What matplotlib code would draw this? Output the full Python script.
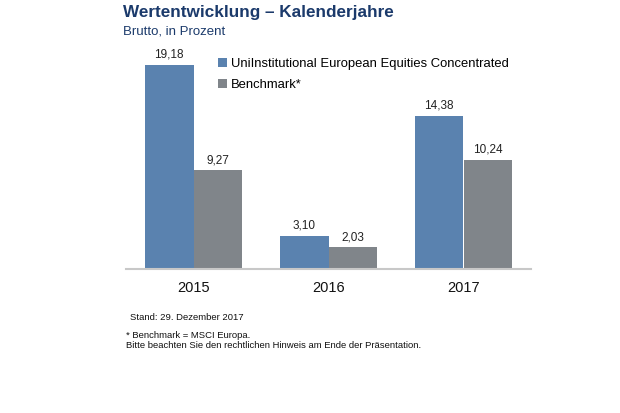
import numpy as np
import matplotlib.pyplot as plt

plt.rcParams['font.family'] = ['Liberation Sans', 'DejaVu Sans']

# Daten
jahre = ['2015', '2016', '2017']
fonds = [19.18, 3.10, 14.38]
benchmark = [9.27, 2.03, 10.24]
fonds_label = 'UniInstitutional European Equities Concentrated'
bench_label = 'Benchmark*'

blau = '#5A82AF'
grau = '#80858A'
navy = '#1B3A6B'

W, H = 620, 413
fig = plt.figure(figsize=(W / 100, H / 100), dpi=100)

# Achse in Pixelkoordinaten platzieren
x0, x1 = 126, 531
y_base, y_top = 269, 56
ax = fig.add_axes([x0 / W, (H - y_base) / H, (x1 - x0) / W, (y_base - y_top) / H])

x = np.arange(len(jahre))
w = 0.36
b1 = ax.bar(x - w / 2, fonds, w, color=blau, label=fonds_label)
b2 = ax.bar(x + w / 2, benchmark, w, color=grau, label=bench_label)

for bars, vals in ((b1, fonds), (b2, benchmark)):
    for b, v in zip(bars, vals):
        ax.annotate(f'{v:.2f}'.replace('.', ','),
                    (b.get_x() + b.get_width() / 2, v),
                    xytext=(0, 3), textcoords='offset points',
                    ha='center', va='bottom', fontsize=8.5, color='#222222')

ax.set_xlim(-0.5, 2.5)
ax.set_ylim(0, 20)
ax.set_xticks(x)
ax.set_xticklabels(jahre, fontsize=10.5, color='#111111')
ax.tick_params(axis='x', length=0, pad=9)
ax.set_yticks([])
for s in ['top', 'right', 'left']:
    ax.spines[s].set_visible(False)
ax.spines['bottom'].set_color('#C8C8C8')
ax.spines['bottom'].set_linewidth(1.5)

leg = ax.legend(loc='upper left', bbox_to_anchor=((213 - x0) / (x1 - x0), 1 - (53 - y_top) / (y_base - y_top)),
                frameon=False, fontsize=9.4, handlelength=0.65, handleheight=0.65,
                handletextpad=0.3, labelspacing=0.7, borderaxespad=0)

# Titel
fig.text(123 / W, 1 - 13 / H, 'Wertentwicklung – Kalenderjahre', fontsize=12.3,
         fontweight='bold', color=navy, va='center', ha='left')
fig.text(123 / W, 1 - 31 / H, 'Brutto, in Prozent', fontsize=9.5,
         color=navy, va='center', ha='left')

# Fußnoten
fig.text(130 / W, 1 - 318 / H, 'Stand: 29. Dezember 2017', fontsize=6.8,
         color='#111111', va='center')
fig.text(126 / W, 1 - 335 / H, '* Benchmark = MSCI Europa.', fontsize=6.8,
         color='#111111', va='center')
fig.text(126 / W, 1 - 346 / H,
         'Bitte beachten Sie den rechtlichen Hinweis am Ende der Präsentation.',
         fontsize=6.8, color='#111111', va='center')

fig.savefig('out.png', dpi=100)
